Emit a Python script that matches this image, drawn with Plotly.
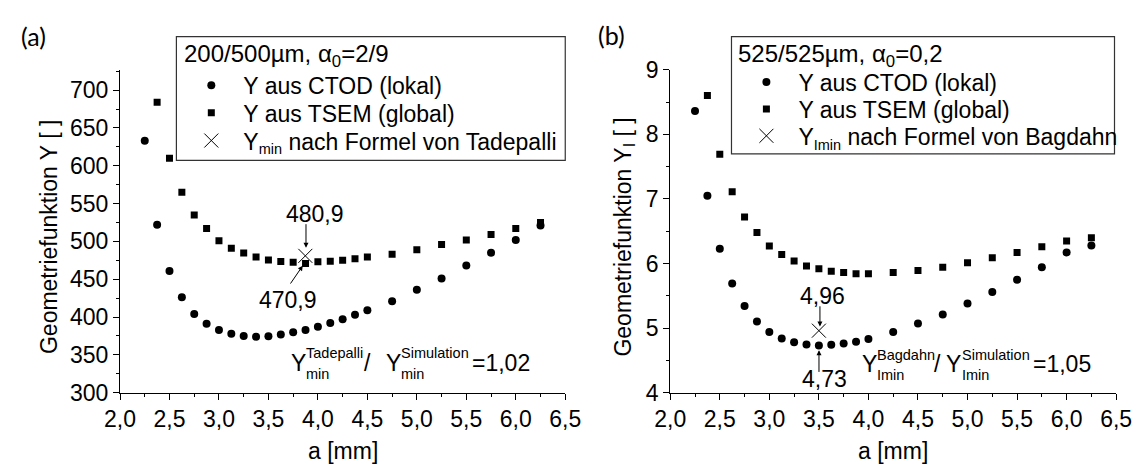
import plotly.graph_objects as go

W, H = 1148, 474
FONT = "Liberation Sans, Arial, sans-serif"
FS = 23
FS_LEG = 23
FS_TITLE = 24
FS_SMALL = 14.5

# ---------------- Panel (a): 200/500 µm ----------------
a_ctod_a = [2.25, 2.375, 2.5, 2.625, 2.75, 2.875, 3.0, 3.125, 3.25, 3.375, 3.5, 3.625,
            3.75, 3.875, 4.0, 4.125, 4.25, 4.375, 4.5, 4.75, 5.0, 5.25, 5.5, 5.75, 6.0, 6.25]
y_ctod_a = [633, 522, 461, 426, 404, 391, 383, 378, 375, 374, 374.5, 377,
            380, 383, 387, 392, 397, 403, 409, 421, 436, 451, 468, 485, 502, 521]
a_tsem_a = [2.375, 2.5, 2.625, 2.75, 2.875, 3.0, 3.125, 3.25, 3.375, 3.5, 3.625, 3.75,
            3.875, 4.0, 4.125, 4.25, 4.375, 4.5, 4.75, 5.0, 5.25, 5.5, 5.75, 6.0, 6.25]
y_tsem_a = [684, 610, 565, 535, 517, 501, 491, 484.5, 479.5, 475.3, 473.3, 472.3,
            470.9, 473, 473.6, 475, 477, 479.5, 483, 489, 496, 502, 509, 517, 525]
a_min_a = [3.873]
y_min_a = [480.9]

# ---------------- Panel (b): 525/525 µm ----------------
a_ctod_b = [2.25, 2.375, 2.5, 2.625, 2.75, 2.875, 3.0, 3.125, 3.25, 3.375, 3.5, 3.625,
            3.75, 3.875, 4.0, 4.25, 4.5, 4.75, 5.0, 5.25, 5.5, 5.75, 6.0, 6.25]
y_ctod_b = [8.36, 7.05, 6.23, 5.69, 5.34, 5.10, 4.94, 4.84, 4.78, 4.745, 4.73, 4.74,
            4.76, 4.79, 4.83, 4.94, 5.07, 5.21, 5.38, 5.56, 5.75, 5.94, 6.17, 6.28]
a_tsem_b = [2.375, 2.5, 2.625, 2.75, 2.875, 3.0, 3.125, 3.25, 3.375, 3.5, 3.625, 3.75,
            3.875, 4.0, 4.25, 4.5, 4.75, 5.0, 5.25, 5.5, 5.75, 6.0, 6.25]
y_tsem_b = [8.60, 7.69, 7.11, 6.72, 6.48, 6.27, 6.14, 6.04, 5.96, 5.92, 5.88, 5.86,
            5.84, 5.84, 5.86, 5.89, 5.94, 6.01, 6.09, 6.17, 6.26, 6.35, 6.40]
a_min_b = [3.5]
y_min_b = [4.96]

x_range = [2, 6.5]
y_range_a = [300, 727]
y_range_b = [4, 9]


def px(x):
    return x / W


def py(y):
    return 1 - y / H


def sub(s):
    return "<sub><span style='font-size:14.5px'>%s</span></sub>" % s


fig = go.Figure()

circle = dict(symbol="circle", size=8, color="black")
square = dict(symbol="square", size=7, color="black")
cross = dict(symbol="x-thin", size=14, color="black", line=dict(width=1, color="black"))

fig.add_trace(go.Scatter(x=a_ctod_a, y=y_ctod_a, mode="markers", marker=circle,
                         name="Y aus CTOD (lokal)", xaxis="x", yaxis="y", legend="legend"))
fig.add_trace(go.Scatter(x=a_tsem_a, y=y_tsem_a, mode="markers", marker=square,
                         name="Y aus TSEM (global)", xaxis="x", yaxis="y", legend="legend2"))
fig.add_trace(go.Scatter(x=a_min_a, y=y_min_a, mode="markers", marker=cross,
                         name="Y" + sub("min") + " nach Formel von Tadepalli",
                         xaxis="x", yaxis="y", legend="legend3"))

fig.add_trace(go.Scatter(x=a_ctod_b, y=y_ctod_b, mode="markers", marker=circle,
                         name="Y aus CTOD (lokal)", xaxis="x2", yaxis="y2", legend="legend4"))
fig.add_trace(go.Scatter(x=a_tsem_b, y=y_tsem_b, mode="markers", marker=square,
                         name="Y aus TSEM (global)", xaxis="x2", yaxis="y2", legend="legend5"))
fig.add_trace(go.Scatter(x=a_min_b, y=y_min_b, mode="markers", marker=cross,
                         name="Y" + sub("Imin") + " nach Formel von Bagdahn",
                         xaxis="x2", yaxis="y2", legend="legend6"))

ydom = [py(401.7), py(60)]
common_x = dict(range=x_range, tick0=2, dtick=0.5, tickformat=".1f", showline=True,
                linecolor="black", linewidth=1, ticks="outside", ticklen=6, tickwidth=1,
                tickcolor="black", showgrid=False, zeroline=False,
                minor=dict(dtick=0.25, ticks="outside", ticklen=3, tickcolor="black"),
                tickfont=dict(size=FS, family=FONT, color="black"), fixedrange=True)
common_y = dict(showline=True, linecolor="black", linewidth=1, ticks="outside", ticklen=6,
                tickwidth=1, tickcolor="black", showgrid=False, zeroline=False,
                tickfont=dict(size=FS, family=FONT, color="black"), fixedrange=True)


def leg(x, y):
    return dict(x=px(x), y=py(y), xanchor="left", yanchor="middle",
                bgcolor="rgba(0,0,0,0)", borderwidth=0,
                font=dict(size=FS_LEG, family=FONT, color="black"), itemwidth=54)


fig.update_layout(
    width=W, height=H, margin=dict(l=0, r=0, t=0, b=0),
    paper_bgcolor="white", plot_bgcolor="white",
    separators=",.",
    font=dict(family=FONT, size=FS, color="black"),
    xaxis=dict(domain=[px(107), px(565)], anchor="y", **common_x),
    yaxis=dict(domain=ydom, anchor="x", range=y_range_a, tick0=300, dtick=50,
               minor=dict(dtick=25, ticks="outside", ticklen=3, tickcolor="black"), **common_y),
    xaxis2=dict(domain=[px(673), px(1131.7)], anchor="y2", **common_x),
    yaxis2=dict(domain=ydom, anchor="x2", range=y_range_b, tick0=4, dtick=1,
                minor=dict(dtick=0.5, ticks="outside", ticklen=3, tickcolor="black"), **common_y),
    legend=leg(168, 76.5),
    legend2=leg(168, 105.5),
    legend3=leg(168, 135),
    legend4=leg(739, 73),
    legend5=leg(739, 101.5),
    legend6=leg(739, 130),
    showlegend=True,
)

# legend frames
for x0, y0, x1, y1 in [(165, 25, 565, 156), (736, 25, 1130, 149)]:
    fig.add_shape(type="rect", xref="paper", yref="paper", x0=px(x0), x1=px(x1),
                  y0=py(y0), y1=py(y1), line=dict(color="#333", width=1.2), layer="above")

ann = []


def txt(x, y, s, size=FS, xanchor="left", angle=0, family=FONT):
    ann.append(dict(xref="paper", yref="paper", x=px(x), y=py(y), text=s, showarrow=False,
                    xanchor=xanchor, yanchor="middle", textangle=angle,
                    font=dict(size=size, family=family, color="black")))


def arrow(xt, yt, dx, dy):
    ann.append(dict(xref="paper", yref="paper", x=px(xt), y=py(yt), text="", showarrow=True,
                    axref="pixel", ayref="pixel", ax=dx, ay=dy, arrowhead=2, arrowsize=1,
                    arrowwidth=1, arrowcolor="black"))


# legend titles
txt(171, 45, "200/500µm, α<sub>0</sub>=2/9", size=FS_TITLE)
txt(741, 45, "525/525µm, α<sub>0</sub>=0,2", size=FS_TITLE)

# panel labels
txt(3, 24, "(a)", size=25, family="Lato, Open Sans, sans-serif")
txt(597, 23, "(b)", size=25, family="Lato, Open Sans, sans-serif")

# axis titles
txt(336, 463, "a [mm]", xanchor="center")
txt(902, 463, "a [mm]", xanchor="center")
txt(34, 237, "Geometriefunktion Y [ ]", xanchor="center", angle=-90)
txt(625, 237, "Geometriefunktion Y<sub>I</sub> [ ]", xanchor="center", angle=-90)

# value labels with arrows (a)
txt(308, 212.7, "480,9", xanchor="center")
arrow(298.3, 248.3, 0, -25)
txt(280, 303.3, "470,9", xanchor="center")
arrow(295, 267.3, -13.3, 19.4)

# value labels with arrows (b)
txt(830, 299.3, "4,96", xanchor="center")
arrow(827, 331.7, 0, -21.7)
txt(831.7, 387.3, "4,73", xanchor="center")
arrow(826, 356.7, 0, 23.3)

# ratio (a)
txt(281, 370, "Y")
txt(296, 360, "Tadepalli", size=FS_SMALL)
txt(296, 382, "min", size=FS_SMALL)
txt(356, 370, "/")
txt(379, 370, "Y")
txt(394, 360, "Simulation", size=FS_SMALL)
txt(394, 382, "min", size=FS_SMALL)
txt(467, 370, "=1,02")

# ratio (b)
txt(868, 371, "Y")
txt(884, 362, "Bagdahn", size=FS_SMALL)
txt(884, 383, "Imin", size=FS_SMALL)
txt(942, 371, "/")
txt(955, 371, "Y")
txt(971, 362, "Simulation", size=FS_SMALL)
txt(971, 383, "Imin", size=FS_SMALL)
txt(1044, 371, "=1,05")

fig.update_layout(annotations=ann)

fig.write_html("out.html")
